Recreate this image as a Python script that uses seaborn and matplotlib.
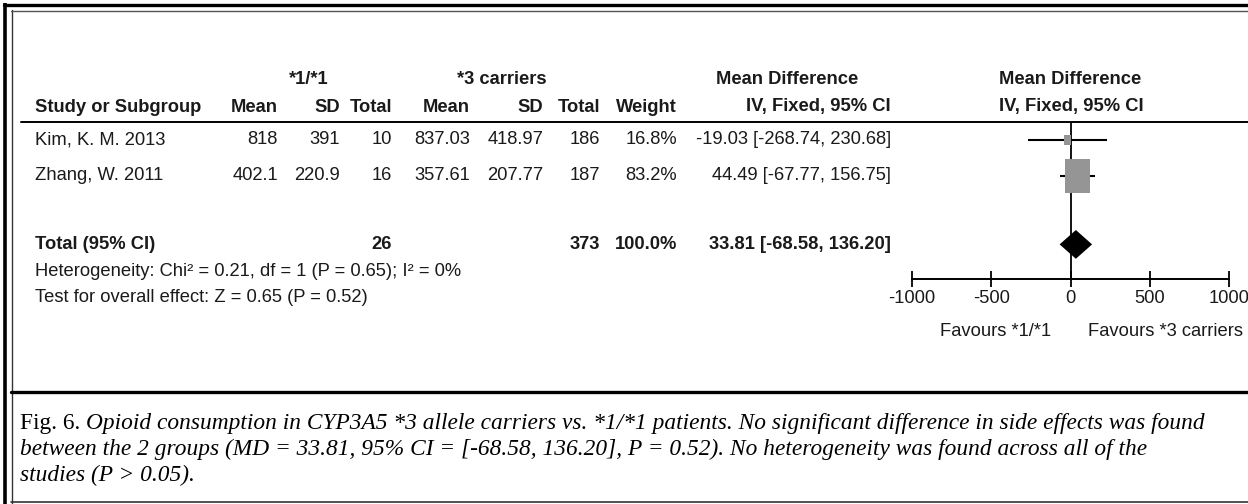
import numpy as np
import pandas as pd
import matplotlib
matplotlib.use("Agg")
import matplotlib.pyplot as plt
import matplotlib.transforms as mtransforms
import seaborn as sns

# ---------------- data ----------------
studies = ["Kim, K. M. 2013", "Zhang, W. 2011"]
mean_11 = ["818", "402.1"]
sd_11 = ["391", "220.9"]
n_11 = [10, 16]
mean_3 = ["837.03", "357.61"]
sd_3 = ["418.97", "207.77"]
n_3 = [186, 187]
weight = [16.8, 83.2]
md = [-19.03, 44.49]
ci_lo = [-268.74, -67.77]
ci_hi = [230.68, 156.75]
total_n_11 = 26
total_n_3 = 373
total_weight = 100.0
total_md = 33.81
total_lo = -68.58
total_hi = 136.20
heterogeneity = "Heterogeneity: Chi\u00b2 = 0.21, df = 1 (P = 0.65); I\u00b2 = 0%"
overall = "Test for overall effect: Z = 0.65 (P = 0.52)"
xticks = [-1000, -500, 0, 500, 1000]
xtick_labels = ["-1000", "-500", "0", "500", "1000"]
fav_left = "Favours *1/*1"
fav_right = "Favours *3 carriers"
caption_lead = "Fig. 6. "
caption_lines = [
    "Opioid consumption in CYP3A5 *3 allele carriers vs. *1/*1 patients. No significant difference in side effects was found",
    "between the 2 groups (MD = 33.81, 95% CI = [-68.58, 136.20], P = 0.52). No heterogeneity was found across all of the",
    "studies (P > 0.05).",
]

df = pd.DataFrame({"study": studies, "md": md, "lo": ci_lo, "hi": ci_hi,
                   "weight": weight, "row": np.arange(len(studies), dtype=float)})
total_row = 2.9

# ---------------- fonts ----------------
SANS = "Liberation Sans"
SERIF = "Liberation Serif"
sns.set_theme(style="white")
plt.rcParams["font.family"] = [SANS, "DejaVu Sans"]

W, H = 1248, 504
fig = plt.figure(figsize=(W / 100, H / 100), dpi=100)
lay = fig.add_axes([0, 0, 1, 1], zorder=0)
lay.set_xlim(0, W)
lay.set_ylim(H, 0)
lay.axis("off")
renderer = fig.canvas.get_renderer()

# fit the table font size to the reference width of a study label (~130 px)
_probe = lay.text(0, 0, studies[0], fontsize=12, family=SANS)
FS = 12 * 130.0 / _probe.get_window_extent(renderer).width
_probe.remove()


def px_rect(x0, x1, y0, y1):
    return [x0 / W, 1 - y1 / H, (x1 - x0) / W, (y1 - y0) / H]


ROW0, DROW = 140.0, 36.0
AX_TOP, AX_BOT = 122.0, 279.0
fax = fig.add_axes(px_rect(912, 1229, AX_TOP, AX_BOT), zorder=2)
fax.patch.set_alpha(0)
fax.set_xlim(xticks[0], xticks[-1])
fax.set_ylim((AX_BOT - ROW0) / DROW, (AX_TOP - ROW0) / DROW)

ink = "#1a1a1a"
TXT = dict(fontsize=FS, color=ink, family=SANS)
BTXT = dict(fontsize=FS, color=ink, family=SANS, fontweight="bold")

# ---------------- borders ----------------
lay.plot([5, 5], [3, H], color="black", lw=2.6, solid_capstyle="butt")
lay.plot([11.5, 11.5], [10, H], color="#333333", lw=1.0)
lay.plot([4, W], [5, 5], color="black", lw=2.4)
lay.plot([11, W], [10.5, 10.5], color="#555555", lw=1.0)
lay.plot([11, W], [392, 392], color="black", lw=2.4)
lay.plot([11, W], [501.5, 501.5], color="#333333", lw=1.2)

# ---------------- table headers ----------------
lay.text(309, 79, "*1/*1", ha="center", va="center", **BTXT)
lay.text(502, 79, "*3 carriers", ha="center", va="center", **BTXT)
lay.text(787, 79, "Mean Difference", ha="center", va="center", **BTXT)
lay.text(1070, 79, "Mean Difference", ha="center", va="center", **BTXT)

cols_right = {"Mean1": 278, "SD1": 340, "Total1": 392, "Mean2": 470, "SD2": 543,
              "Total2": 600, "Weight": 677, "MD": 891}
hdr_y = 107
lay.text(35, hdr_y, "Study or Subgroup", ha="left", va="center", **BTXT)
for key, lab in [("Mean1", "Mean"), ("SD1", "SD"), ("Total1", "Total"), ("Mean2", "Mean"),
                 ("SD2", "SD"), ("Total2", "Total"), ("Weight", "Weight"), ("MD", "IV, Fixed, 95% CI")]:
    lay.text(cols_right[key], hdr_y, lab, ha="right", va="center", **BTXT)
lay.text(1071, hdr_y, "IV, Fixed, 95% CI", ha="center", va="center", **BTXT)
lay.plot([21, W], [AX_TOP, AX_TOP], color="black", lw=1.4)

# ---------------- table rows ----------------
btr = mtransforms.blended_transform_factory(lay.transData, fax.transData)
for i, r in df.iterrows():
    y = r["row"]
    vals = {"Mean1": mean_11[i], "SD1": sd_11[i], "Total1": str(n_11[i]), "Mean2": mean_3[i],
            "SD2": sd_3[i], "Total2": str(n_3[i]), "Weight": f"{weight[i]:.1f}%",
            "MD": f"{md[i]:.2f} [{ci_lo[i]:.2f}, {ci_hi[i]:.2f}]"}
    lay.text(35, y, r["study"], transform=btr, ha="left", va="center", **TXT)
    for key, v in vals.items():
        lay.text(cols_right[key], y, v, transform=btr, ha="right", va="center", **TXT)

tot_vals = {"Total1": str(total_n_11), "Total2": str(total_n_3), "Weight": f"{total_weight:.1f}%",
            "MD": f"{total_md:.2f} [{total_lo:.2f}, {total_hi:.2f}]"}
lay.text(35, total_row, "Total (95% CI)", transform=btr, ha="left", va="center", **BTXT)
for key, v in tot_vals.items():
    lay.text(cols_right[key], total_row, v, transform=btr, ha="right", va="center", **BTXT)
lay.text(35, 271, heterogeneity, ha="left", va="center", **TXT)
lay.text(35, 298, overall, ha="left", va="center", **TXT)

# ---------------- forest plot ----------------
fax.axvline(0, color="black", lw=1.3, zorder=1)
fax.hlines(df["row"], df["lo"], df["hi"], color="black", lw=1.5, zorder=2)
rect = [(-0.38, -0.5), (0.38, -0.5), (0.38, 0.5), (-0.38, 0.5), (-0.38, -0.5)]
sns.scatterplot(data=df, x="md", y="row", size="weight", sizes=(52, 566), size_norm=(16.8, 83.2),
                marker=rect, color="#959595", edgecolor="none", linewidth=0, legend=False,
                ax=fax, zorder=3)
dh = 0.4
fax.fill([total_lo, total_md, total_hi, total_md],
         [total_row, total_row - dh, total_row, total_row + dh],
         color="black", lw=0, zorder=4)

fax.set_xticks(xticks)
fax.set_xticklabels(xtick_labels, family=SANS)
fax.set_yticks([])
fax.set_xlabel("")
fax.set_ylabel("")
for s in ["top", "left", "right"]:
    fax.spines[s].set_visible(False)
fax.spines["bottom"].set_color("black")
fax.spines["bottom"].set_linewidth(1.4)
fax.tick_params(axis="x", direction="inout", length=12, width=1.3, colors="black",
                labelsize=FS, pad=2, labelcolor=ink, bottom=True)

lay.text(1051, 331, fav_left, ha="right", va="center", **TXT)
lay.text(1088, 331, fav_right, ha="left", va="center", **TXT)

# ---------------- caption ----------------
cap_x0, cap_x1 = 20, 1202
cap_ys = [423, 449, 475]
cfs = 14.5
t0 = lay.text(cap_x0, cap_ys[0], caption_lead, ha="left", va="center", fontsize=cfs,
              family=SERIF, color="black")
t1 = lay.text(cap_x0, cap_ys[0], caption_lines[0], ha="left", va="center", fontsize=cfs,
              family=SERIF, style="italic", color="black")
w0 = t0.get_window_extent(renderer).width
w1 = t1.get_window_extent(renderer).width
cfs = cfs * (cap_x1 - cap_x0) / (w0 + w1)
t0.set_fontsize(cfs)
t1.set_fontsize(cfs)
w0 = t0.get_window_extent(renderer).width
t1.set_x(cap_x0 + w0)
for line, y in zip(caption_lines[1:], cap_ys[1:]):
    lay.text(cap_x0, y, line, ha="left", va="center", fontsize=cfs, family=SERIF,
             style="italic", color="black")

fig.savefig("out.png", dpi=100)
